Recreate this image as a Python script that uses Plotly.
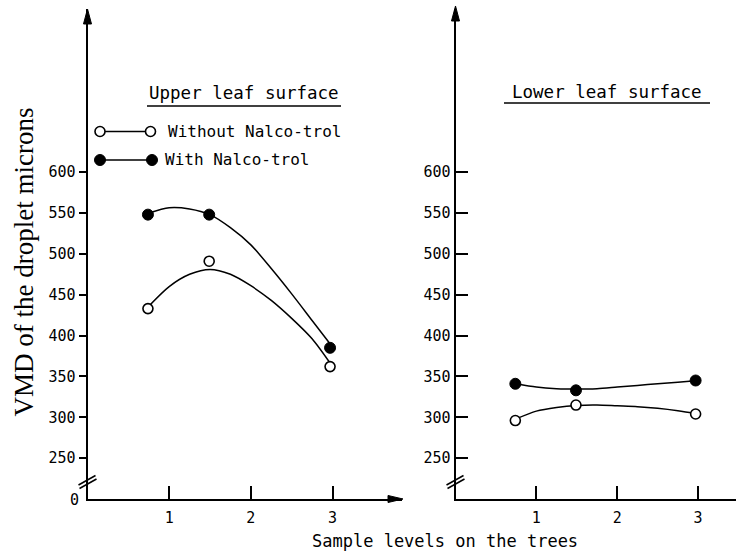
import plotly.graph_objects as go

# ---------------- data ----------------
levels = [0.74, 1.49, 2.97]                      # sample levels of plotted points
upper_without = [433, 491, 362]
upper_with = [548, 548, 385]
lower_without = [296, 315, 304]
lower_with = [341, 333, 345]

# hand-fitted curves
curve_x = [0.75, 1.0, 1.25, 1.5, 1.75, 2.0, 2.25, 2.5, 2.75, 3.0]
upper_without_curve = [436, 460, 475, 481, 475, 461, 443, 421, 396, 362]
upper_with_curve = [550, 556.5, 555, 548, 532, 511, 482, 451, 418.5, 386]
lower_without_curve = [298, 307.5, 312, 314.5, 315, 314, 313, 311, 308, 304]
lower_with_curve = [341, 337, 335, 334.5, 335, 337, 339, 341, 343, 345]

y_tickvals = [250, 300, 350, 400, 450, 500, 550, 600]
x_tickvals = [1, 2, 3]
y_title = "VMD of the droplet microns"
x_title = "Sample levels on the trees"
panel_titles = ["Upper leaf surface", "Lower leaf surface"]
legend_labels = ["Without Nalco-trol", "With Nalco-trol"]

# ---------------- layout geometry (pixels) ----------------
W, H = 736, 551
Y_BOT, Y_TOP = 499, 8.7
L0, L1 = 87.5, 402          # left panel x-axis pixel span
R0, R1 = 455.5, 736         # right panel
SL, SR = 81.67, 80.85       # px per x unit
YMIN, YMAX = 200, 800
PPY = (Y_BOT - Y_TOP) / (YMAX - YMIN)

MONO = "DejaVu Sans Mono"
SERIF = "Liberation Serif"


def P(px, py):
    return px / W, 1 - py / H


def lx(px):
    return (px - L0) / SL


def ly(py):
    return YMIN + (Y_BOT - py) / PPY


fig = go.Figure()

LINE = dict(color="black", width=1.5)
OPEN = dict(symbol="circle", size=10, color="white", line=dict(color="black", width=1.6))
FILLED = dict(symbol="circle", size=11, color="black", line=dict(color="black", width=1))

# curves
for xa, ya, cy in [("x", "y", upper_without_curve), ("x", "y", upper_with_curve),
                   ("x2", "y2", lower_without_curve), ("x2", "y2", lower_with_curve)]:
    fig.add_trace(go.Scatter(x=curve_x, y=cy, mode="lines",
                             line=dict(shape="spline", smoothing=0.8, **LINE),
                             xaxis=xa, yaxis=ya, showlegend=False, hoverinfo="skip"))

# points
fig.add_trace(go.Scatter(x=levels, y=upper_without, mode="markers", marker=OPEN,
                         xaxis="x", yaxis="y", showlegend=False, cliponaxis=False))
fig.add_trace(go.Scatter(x=levels, y=upper_with, mode="markers", marker=FILLED,
                         xaxis="x", yaxis="y", showlegend=False, cliponaxis=False))
fig.add_trace(go.Scatter(x=levels, y=lower_without, mode="markers", marker=OPEN,
                         xaxis="x2", yaxis="y2", showlegend=False, cliponaxis=False))
fig.add_trace(go.Scatter(x=levels, y=lower_with, mode="markers", marker=FILLED,
                         xaxis="x2", yaxis="y2", showlegend=False, cliponaxis=False))

# hand-drawn legend samples (inside left panel)
for (pa, pb, py, mk) in [(100, 150.5, 131.5, OPEN), (100, 152, 160, FILLED)]:
    fig.add_trace(go.Scatter(x=[lx(pa), lx(pb)], y=[ly(py), ly(py)], mode="lines+markers",
                             line=LINE, marker=mk, xaxis="x", yaxis="y",
                             showlegend=False, hoverinfo="skip", cliponaxis=False))

axis_common = dict(showline=True, linewidth=2, linecolor="black", showgrid=False,
                   zeroline=False, tickcolor="black", tickwidth=1.5,
                   tickfont=dict(family=MONO, size=15, color="black"))

fig.update_layout(
    width=W, height=H, autosize=False,
    margin=dict(l=0, r=0, t=0, b=0),
    paper_bgcolor="white", plot_bgcolor="white",
    showlegend=False,
    xaxis=dict(domain=[L0 / W, L1 / W], range=[0, (L1 - L0) / SL], anchor="y",
               tickvals=x_tickvals, ticks="inside", ticklen=13, ticklabelstandoff=4,
               **axis_common),
    yaxis=dict(domain=[1 - Y_BOT / H, 1 - Y_TOP / H], range=[YMIN, YMAX], anchor="x",
               tickvals=y_tickvals, ticks="outside", ticklen=7, **axis_common),
    yaxis3=dict(overlaying="y", anchor="x", side="left", range=[YMIN, YMAX],
                tickvals=y_tickvals, ticks="inside", ticklen=10, tickwidth=1.5,
                tickcolor="black", showticklabels=False, showline=False,
                showgrid=False, zeroline=False),
    xaxis2=dict(domain=[R0 / W, R1 / W], range=[0, (R1 - R0) / SR], anchor="y2",
                tickvals=x_tickvals, ticks="inside", ticklen=13, ticklabelstandoff=4,
                **axis_common),
    yaxis2=dict(domain=[1 - Y_BOT / H, 1 - Y_TOP / H], range=[YMIN, YMAX], anchor="x2",
                tickvals=y_tickvals, ticks="inside", ticklen=12, **axis_common),
)

shapes = []


def seg(x0, y0, x1, y1, w=1.5):
    a, b = P(x0, y0)
    c, d = P(x1, y1)
    shapes.append(dict(type="line", xref="paper", yref="paper", x0=a, y0=b, x1=c, y1=d,
                       line=dict(color="black", width=w)))


def tri(pts):
    s = "M " + " L ".join("%f,%f" % P(*p) for p in pts) + " Z"
    shapes.append(dict(type="path", xref="paper", yref="paper", path=s,
                       fillcolor="black", line=dict(color="black", width=1)))


# axis arrows
tri([(L0, 9), (L0 - 4, 24), (L0 + 4, 24)])
tri([(R0, 6), (R0 - 4, 21), (R0 + 4, 21)])
tri([(L1 + 1, Y_BOT), (L1 - 14, Y_BOT - 3.5), (L1 - 14, Y_BOT + 3.5)])

# axis break marks
for x0 in (L0, R0):
    seg(x0 - 9, 485, x0 + 8, 475.5)
    seg(x0 - 8, 488.5, x0 + 9, 479)

# title underlines
seg(147, 106, 341, 106)
seg(504, 103, 710, 103)

fig.update_layout(shapes=shapes)

ann = []


def text(px, py, s, size, family=MONO, xanchor="left", angle=0):
    a, b = P(px, py)
    ann.append(dict(x=a, y=b, xref="paper", yref="paper", text=s, showarrow=False,
                    xanchor=xanchor, yanchor="middle", textangle=angle,
                    font=dict(family=family, size=size, color="black")))


text(147, 93, panel_titles[0], 17.5)
text(510, 92.5, panel_titles[1], 17.5)
text(166, 131.5, legend_labels[0], 16)
text(163, 160, legend_labels[1], 16)
text(445, 541, x_title, 17, xanchor="center")
text(74, 500, "0", 15, xanchor="center")
text(23, 262.5, y_title, 27, family=SERIF, xanchor="center", angle=-90)

fig.update_layout(annotations=ann)

fig.write_html("out.html")
